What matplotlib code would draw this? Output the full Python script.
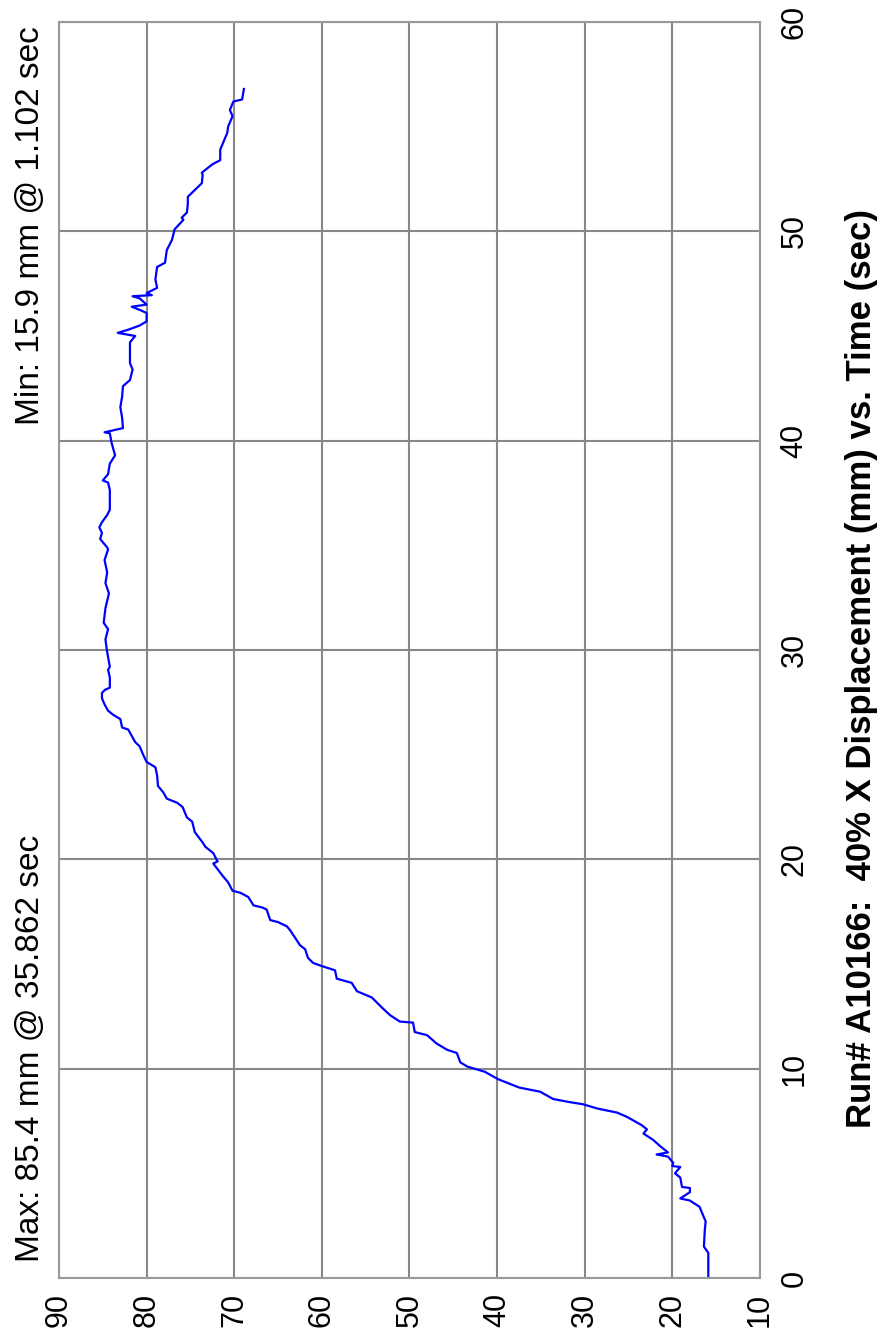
import matplotlib
matplotlib.use("Agg")
import matplotlib.pyplot as plt

# Verlauf der X-Verschiebung (mm) ueber die Zeit (s)
time_s = [0.0, 1.2, 1.5, 2.3, 2.7, 3.4, 3.7, 3.8, 4.1, 4.3, 4.35, 4.8, 5.0, 5.3, 5.35,
          5.5, 5.8, 5.9, 6.0, 6.3, 6.6, 6.9, 7.1, 7.3, 7.7, 7.9, 8.1, 8.3, 8.4, 8.55,
          8.9, 9.1, 9.5, 9.85, 10.1, 10.3, 10.75, 10.9, 11.2, 11.6, 11.75, 12.2, 12.25,
          12.55, 12.9, 13.4, 13.7, 14.1, 14.3, 14.7, 14.9, 15.05, 15.3, 15.7, 15.9,
          16.6, 16.8, 17.0, 17.1, 17.6, 17.7, 17.8, 18.2, 18.4, 18.5, 18.9, 19.2, 19.8,
          19.9, 20.3, 20.6, 20.8, 21.3, 21.8, 22.0, 22.5, 22.7, 22.9, 23.2, 23.5, 24.0,
          24.4, 24.65, 25.0, 25.4, 25.6, 26.2, 26.3, 26.7, 26.9, 27.1, 27.4, 27.7, 27.95,
          28.1, 28.2, 28.7, 29.05, 29.2, 29.9, 30.5, 31.0, 31.3, 32.0, 32.7, 33.2, 33.7,
          34.3, 34.8, 34.9, 35.3, 35.6, 35.86, 36.1, 36.45, 36.7, 37.65, 38.0, 38.1, 38.4,
          38.9, 39.3, 39.9, 40.35, 40.4, 40.6, 41.1, 41.6, 42.1, 42.6, 42.9, 43.4, 43.7,
          44.7, 45.0, 45.15, 45.3, 45.5, 45.7, 46.1, 46.25, 46.4, 46.5, 46.8, 46.9, 46.95,
          47.05, 47.3, 47.7, 48.3, 48.5, 49.1, 49.6, 50.1, 50.55, 50.65, 50.9, 51.3, 51.65,
          52.3, 52.7, 52.8, 53.2, 53.4, 53.9, 54.2, 54.7, 55.0, 55.5, 55.8, 56.2, 56.3, 56.8]
disp_mm = [15.9, 15.9, 16.4, 16.3, 16.2, 16.9, 18.0, 19.1, 18.0, 18.0, 18.9, 19.1, 19.7, 19.1, 20.0,
           19.9, 20.5, 21.8, 20.5, 21.4, 22.2, 23.3, 22.9, 23.5, 25.2, 26.3, 28.6, 30.2, 31.7, 33.6,
           35.1, 37.5, 39.9, 41.4, 43.4, 44.2, 44.6, 45.7, 46.9, 48.0, 49.4, 49.6, 51.1,
           52.2, 53.1, 54.3, 56.0, 56.6, 58.3, 58.5, 60.0, 61.0, 61.6, 61.9, 62.5,
           63.6, 64.0, 65.0, 65.9, 66.3, 66.8, 67.8, 68.4, 69.3, 70.2, 70.7, 71.3, 72.4,
           71.9, 72.4, 73.3, 73.6, 74.5, 74.8, 75.4, 75.9, 76.5, 77.7, 78.1, 78.7, 78.8,
           79.0, 80.0, 80.4, 80.8, 81.3, 82.1, 82.8, 83.0, 83.8, 84.4, 84.8, 85.1, 85.1,
           84.75, 84.2, 84.2, 84.4, 84.2, 84.5, 84.7, 84.4, 84.9, 84.7, 84.3, 84.7, 84.5,
           84.8, 84.4, 84.5, 85.3, 85.1, 85.4, 85.1, 84.5, 84.2, 84.2, 84.4, 85.0, 84.4,
           84.2, 83.6, 84.0, 84.2, 84.8, 82.7, 82.8, 83.0, 82.8, 82.7, 81.9, 81.6, 81.9,
           81.9, 81.3, 83.3, 82.1, 80.8, 80.0, 80.0, 80.8, 81.7, 80.0, 80.8, 81.6, 79.4,
           80.0, 78.8, 79.0, 78.8, 77.9, 77.7, 77.1, 76.8, 75.8, 76.0, 75.4, 75.3, 75.3,
           73.7, 73.6, 73.7, 72.5, 71.6, 71.6, 71.3, 70.8, 70.7, 70.2, 70.5, 70.1, 69.1, 68.9]

disp_ticks = [90, 80, 70, 60, 50, 40, 30, 20, 10]
time_ticks = [0, 10, 20, 30, 40, 50, 60]

title = "Run# A10166:  40% X Displacement (mm) vs. Time (sec)"
max_text = "Max: 85.4 mm @ 35.862 sec"
min_text = "Min: 15.9 mm @ 1.102 sec"

plt.rcParams['font.family'] = ['Liberation Sans', 'DejaVu Sans']

W, H = 881, 1334
fig = plt.figure(figsize=(W / 100, H / 100), dpi=100)
ax = fig.add_axes([59 / W, 1 - 1278 / H, (760 - 59) / W, (1278 - 22) / H])

# Diagramm ist um 90 Grad gedreht: Verschiebung waagerecht, Zeit senkrecht
ax.plot(disp_mm, time_s, color='#0000ff', lw=1.6)
ax.set_xlim(90, 10)
ax.set_ylim(0, 60)
ax.set_xticks(disp_ticks)
ax.set_yticks(time_ticks)
ax.yaxis.tick_right()
ax.grid(True, color='#888888', lw=1.5)
ax.set_axisbelow(True)
for s in ax.spines.values():
    s.set_color('#999999')
    s.set_linewidth(1.5)
ax.tick_params(axis='x', length=0, labelsize=22, pad=11)
ax.tick_params(axis='y', length=0, labelsize=22, pad=14)
for lab in ax.get_xticklabels():
    lab.set_rotation(90)
    lab.set_ha('center')
    lab.set_va('top')
for lab in ax.get_yticklabels():
    lab.set_rotation(90)
    lab.set_ha('left')
    lab.set_va('center')

fig.text(15 / W, 1 - 1262 / H, max_text, rotation=90, ha='left', va='bottom', fontsize=24)
fig.text(15 / W, 1 - 26 / H, min_text, rotation=90, ha='left', va='top', fontsize=24)
fig.text(861 / W, 1 - 668 / H, title, rotation=90, ha='center', va='center',
         fontsize=25, fontweight='bold')

fig.savefig('out.png', dpi=100)
